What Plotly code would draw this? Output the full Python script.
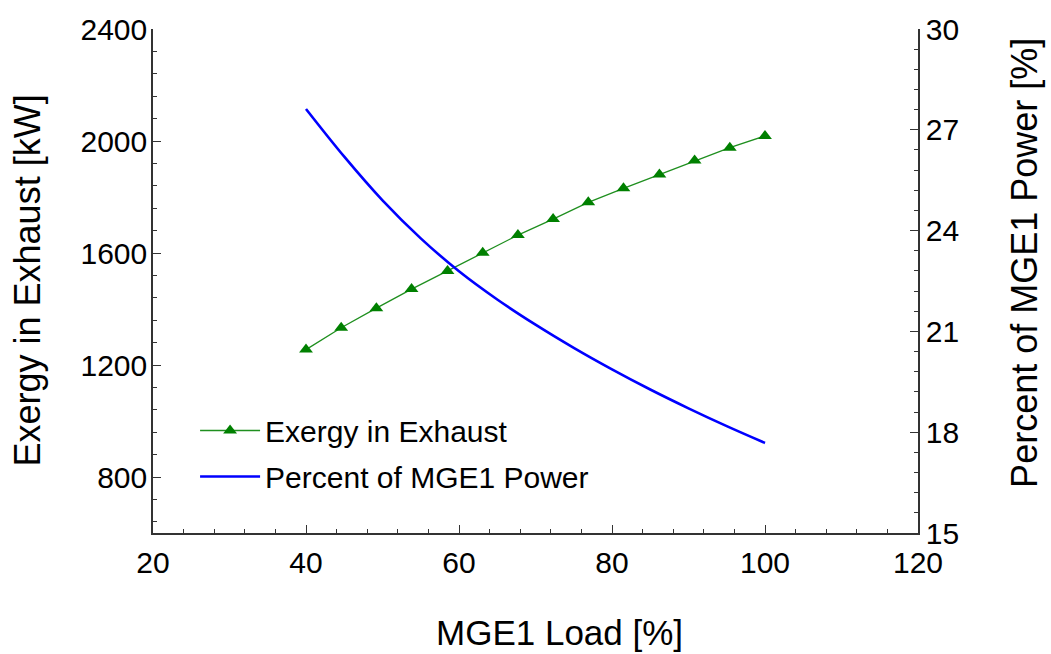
import plotly.graph_objects as go

# ---- data ----
load_exergy = [40, 44.6, 49.2, 53.8, 58.5, 63.1, 67.7, 72.3, 76.9, 81.5, 86.2, 90.8, 95.4, 100]
exergy_kw = [1255, 1333, 1403, 1471, 1536, 1601, 1664, 1721, 1781, 1831, 1880, 1930, 1976, 2018]

load_pct = [40, 45, 50, 55, 60, 65, 70, 75, 80, 85, 90, 95, 100]
percent_power = [27.62, 26.20, 24.90, 23.77, 22.79, 21.95, 21.20, 20.51, 19.87, 19.27, 18.71, 18.18, 17.68]

x_ticks = [20, 40, 60, 80, 100, 120]
y1_ticks = [800, 1200, 1600, 2000, 2400]
y2_ticks = [15, 18, 21, 24, 27, 30]

FONT = "Liberation Sans, Arial, sans-serif"
AX = "#333333"

fig = go.Figure()
fig.add_trace(go.Scatter(
    x=load_exergy, y=exergy_kw, name="Exergy in Exhaust",
    mode="lines+markers",
    line=dict(color="#1f8f1f", width=1.3),
    marker=dict(symbol="triangle-up", size=12, color="#008000"),
    yaxis="y", legendgroup="a",
))
fig.add_trace(go.Scatter(
    x=load_pct, y=percent_power, name="Percent of MGE1 Power",
    mode="lines", line=dict(color="#0000ff", width=2.6, shape="spline", smoothing=1.0),
    yaxis="y2", legendgroup="b",
))

common = dict(showgrid=False, zeroline=False, showline=True, linecolor=AX, linewidth=1.5,
              ticks="inside", ticklen=8, tickwidth=1.3, tickcolor=AX,
              tickfont=dict(family=FONT, size=30, color="black"))

fig.update_layout(
    width=1051, height=654,
    margin=dict(l=153, r=133, t=24, b=121),
    paper_bgcolor="white", plot_bgcolor="white",
    font=dict(family=FONT, color="black"),
    xaxis=dict(range=[20, 120], tickvals=x_ticks, ticklabelstandoff=2,
               minor=dict(dtick=4, ticks="inside", ticklen=4, tickcolor=AX, tickwidth=1.2),
               **common),
    yaxis=dict(range=[600, 2400], tickvals=y1_ticks, ticklabelstandoff=-2,
               minor=dict(dtick=80, ticks="inside", ticklen=4, tickcolor=AX, tickwidth=1.2),
               **common),
    yaxis2=dict(range=[15, 30], tickvals=y2_ticks, overlaying="y", side="right",
                ticklabelstandoff=0,
                minor=dict(dtick=0.6, ticks="inside", ticklen=4, tickcolor=AX, tickwidth=1.2),
                **common),
    showlegend=True,
    legend=dict(x=0.055, y=0.255, xanchor="left", yanchor="top",
                bgcolor="rgba(0,0,0,0)", borderwidth=0,
                font=dict(family=FONT, size=30, color="black"),
                itemwidth=60, tracegroupgap=4),
    annotations=[
        dict(text="MGE1 Load [%]", xref="paper", yref="paper", x=0.532, y=-0.1965,
             showarrow=False, font=dict(family=FONT, size=35, color="black"),
             xanchor="center", yanchor="middle"),
        dict(text="Exergy in Exhaust [kW]", xref="paper", yref="paper", x=-0.1647, y=0.501,
             showarrow=False, textangle=-90, font=dict(family=FONT, size=36, color="black"),
             xanchor="center", yanchor="middle"),
        dict(text="Percent of MGE1 Power [%]", xref="paper", yref="paper", x=1.1399, y=0.536,
             showarrow=False, textangle=-90, font=dict(family=FONT, size=36, color="black"),
             xanchor="center", yanchor="middle"),
    ],
)

fig.write_html("out.html")
